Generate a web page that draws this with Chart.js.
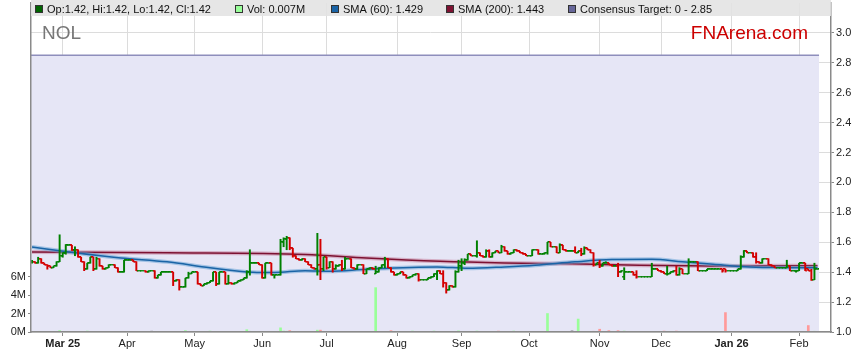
<!DOCTYPE html>
<html><head><meta charset="utf-8">
<script src="https://cdn.jsdelivr.net/npm/chart.js@4.4.1/dist/chart.umd.min.js"></script>
<style>html,body{margin:0;padding:0;background:#fff;overflow:hidden}canvas{display:block}</style>
</head><body>
<canvas id="c" width="859" height="363"></canvas>
<script>
// ---- data (one entry per weekday, 17 Feb 2025 .. 10 Feb 2026) ----
const monthLabels = ['Mar 25','Apr','May','Jun','Jul','Aug','Sep','Oct','Nov','Dec','Jan 26','Feb'];
const monthIdx    = [10,31,53,75,96,119,140,162,185,205,228,250];
const boldLabels  = ['Mar 25','Jan 26'];

const open = [
1.47,1.47,1.46,1.49,1.46,1.45,1.44,1.43,1.44,1.47,
1.51,1.525,1.58,1.58,1.545,1.55,1.50,1.47,1.42,1.46,
1.50,1.42,1.49,1.44,1.42,1.43,1.45,1.45,1.43,1.40,
1.40,1.48,1.48,1.48,1.47,1.41,1.41,1.41,1.40,1.41,
1.41,1.36,1.38,1.40,1.40,1.40,1.40,1.34,1.35,1.30,
1.30,1.36,1.39,1.40,1.40,1.32,1.31,1.32,1.33,1.34,
1.40,1.32,1.40,1.40,1.32,1.33,1.32,1.33,1.34,1.35,
1.36,1.40,1.46,1.46,1.46,1.45,1.36,1.46,1.46,1.38,
1.38,1.38,1.60,1.62,1.63,1.56,1.51,1.49,1.48,1.49,
1.47,1.45,1.43,1.42,1.45,1.42,1.50,1.43,1.47,1.42,
1.44,1.45,1.42,1.49,1.49,1.43,1.42,1.45,1.45,1.39,
1.42,1.43,1.39,1.40,1.43,1.45,1.49,1.43,1.40,1.38,
1.39,1.40,1.38,1.36,1.37,1.38,1.39,1.35,1.35,1.35,
1.36,1.37,1.39,1.41,1.39,1.33,1.28,1.31,1.30,1.40,
1.44,1.46,1.48,1.52,1.51,1.51,1.53,1.51,1.50,1.54,
1.50,1.53,1.54,1.53,1.57,1.54,1.52,1.53,1.55,1.54,
1.53,1.52,1.51,1.51,1.55,1.55,1.52,1.52,1.53,1.60,
1.57,1.57,1.53,1.58,1.55,1.54,1.54,1.54,1.53,1.54,
1.52,1.56,1.55,1.53,1.45,1.46,1.44,1.46,1.46,1.45,
1.44,1.44,1.40,1.37,1.40,1.40,1.40,1.38,1.37,1.37,
1.37,1.37,1.37,1.42,1.42,1.41,1.40,1.39,1.39,1.40,
1.41,1.38,1.42,1.39,1.39,1.47,1.47,1.47,1.41,1.41,
1.41,1.42,1.42,1.42,1.42,1.42,1.42,1.41,1.41,1.41,
1.41,1.42,1.50,1.54,1.53,1.53,1.50,1.47,1.46,1.49,
1.49,1.45,1.44,1.43,1.43,1.43,1.43,1.44,1.41,1.41,
1.41,1.46,1.46,1.42,1.41,1.35,1.42];
const high = [
1.48,1.47,1.50,1.49,1.46,1.45,1.44,1.44,1.47,1.65,
1.53,1.585,1.58,1.58,1.57,1.55,1.50,1.47,1.46,1.50,
1.50,1.50,1.49,1.44,1.43,1.45,1.45,1.45,1.43,1.40,
1.48,1.48,1.48,1.48,1.47,1.41,1.41,1.41,1.41,1.41,
1.41,1.38,1.40,1.40,1.40,1.40,1.40,1.35,1.35,1.30,
1.36,1.40,1.40,1.40,1.40,1.32,1.32,1.33,1.34,1.40,
1.40,1.40,1.40,1.40,1.38,1.33,1.33,1.34,1.35,1.36,
1.41,1.55,1.46,1.46,1.46,1.45,1.46,1.46,1.46,1.38,
1.38,1.62,1.63,1.64,1.63,1.56,1.51,1.49,1.49,1.49,
1.47,1.45,1.43,1.66,1.62,1.50,1.50,1.47,1.47,1.45,
1.45,1.48,1.50,1.49,1.49,1.43,1.45,1.45,1.45,1.42,
1.43,1.43,1.44,1.43,1.45,1.50,1.49,1.43,1.40,1.39,
1.40,1.40,1.38,1.37,1.38,1.39,1.39,1.35,1.35,1.36,
1.37,1.39,1.41,1.41,1.41,1.33,1.31,1.31,1.41,1.48,
1.49,1.49,1.52,1.52,1.51,1.61,1.53,1.51,1.55,1.55,
1.53,1.54,1.54,1.58,1.57,1.54,1.53,1.55,1.55,1.54,
1.53,1.52,1.51,1.55,1.55,1.55,1.52,1.53,1.60,1.60,
1.57,1.57,1.59,1.58,1.55,1.54,1.54,1.57,1.54,1.56,
1.57,1.56,1.55,1.53,1.46,1.48,1.46,1.47,1.46,1.45,
1.44,1.46,1.41,1.43,1.40,1.40,1.40,1.41,1.37,1.37,
1.37,1.37,1.46,1.42,1.42,1.41,1.40,1.44,1.40,1.41,
1.44,1.43,1.42,1.39,1.49,1.47,1.47,1.47,1.41,1.41,
1.42,1.42,1.42,1.42,1.42,1.42,1.42,1.41,1.41,1.41,
1.42,1.51,1.545,1.54,1.53,1.53,1.53,1.47,1.49,1.49,
1.49,1.45,1.44,1.43,1.43,1.43,1.48,1.44,1.41,1.41,
1.46,1.46,1.46,1.42,1.42,1.46,1.42];
const low = [
1.46,1.46,1.46,1.46,1.45,1.42,1.43,1.43,1.44,1.47,
1.50,1.52,1.58,1.545,1.51,1.50,1.47,1.41,1.42,1.46,
1.41,1.42,1.44,1.42,1.42,1.43,1.45,1.43,1.40,1.40,
1.40,1.48,1.48,1.47,1.41,1.41,1.41,1.40,1.40,1.41,
1.36,1.36,1.38,1.40,1.40,1.40,1.31,1.34,1.28,1.30,
1.30,1.36,1.39,1.40,1.32,1.31,1.31,1.32,1.33,1.34,
1.31,1.32,1.40,1.32,1.32,1.32,1.32,1.33,1.34,1.35,
1.36,1.38,1.46,1.46,1.45,1.36,1.36,1.46,1.38,1.36,
1.38,1.38,1.57,1.55,1.55,1.50,1.49,1.48,1.48,1.47,
1.45,1.43,1.42,1.38,1.35,1.41,1.42,1.43,1.40,1.42,
1.44,1.41,1.42,1.49,1.43,1.42,1.42,1.45,1.39,1.39,
1.42,1.42,1.39,1.40,1.43,1.43,1.43,1.40,1.38,1.38,
1.39,1.38,1.36,1.36,1.37,1.38,1.34,1.35,1.35,1.35,
1.36,1.37,1.35,1.39,1.30,1.26,1.28,1.30,1.30,1.40,
1.41,1.45,1.48,1.51,1.51,1.50,1.51,1.50,1.50,1.50,
1.50,1.53,1.53,1.53,1.54,1.52,1.52,1.53,1.54,1.53,
1.52,1.51,1.51,1.51,1.55,1.52,1.52,1.52,1.52,1.57,
1.57,1.53,1.53,1.55,1.54,1.54,1.54,1.53,1.53,1.51,
1.52,1.55,1.53,1.44,1.45,1.43,1.44,1.46,1.45,1.44,
1.44,1.37,1.40,1.35,1.40,1.40,1.38,1.36,1.37,1.37,
1.37,1.37,1.37,1.42,1.41,1.40,1.39,1.38,1.39,1.40,
1.38,1.38,1.39,1.39,1.39,1.47,1.47,1.41,1.41,1.41,
1.41,1.42,1.42,1.42,1.42,1.40,1.40,1.41,1.41,1.41,
1.41,1.42,1.50,1.53,1.53,1.50,1.46,1.46,1.46,1.49,
1.45,1.44,1.43,1.43,1.43,1.43,1.43,1.41,1.41,1.40,
1.41,1.46,1.41,1.41,1.345,1.35,1.42];
const close = [
1.47,1.46,1.49,1.46,1.45,1.44,1.43,1.44,1.47,1.51,
1.525,1.58,1.58,1.545,1.55,1.50,1.47,1.42,1.46,1.50,
1.42,1.49,1.44,1.42,1.43,1.45,1.45,1.43,1.40,1.40,
1.48,1.48,1.48,1.47,1.41,1.41,1.41,1.40,1.41,1.41,
1.36,1.38,1.40,1.40,1.40,1.40,1.34,1.35,1.30,1.30,
1.36,1.39,1.40,1.40,1.32,1.31,1.32,1.33,1.34,1.40,
1.32,1.40,1.40,1.32,1.33,1.32,1.33,1.34,1.35,1.36,
1.40,1.46,1.46,1.46,1.45,1.36,1.46,1.46,1.38,1.38,
1.38,1.60,1.62,1.63,1.56,1.51,1.49,1.48,1.49,1.47,
1.45,1.43,1.42,1.45,1.42,1.50,1.43,1.47,1.42,1.44,
1.45,1.42,1.49,1.49,1.43,1.42,1.45,1.45,1.39,1.42,
1.43,1.42,1.40,1.43,1.45,1.49,1.43,1.40,1.38,1.39,
1.40,1.38,1.36,1.37,1.38,1.39,1.35,1.35,1.35,1.36,
1.37,1.39,1.41,1.39,1.33,1.28,1.31,1.30,1.40,1.44,
1.46,1.48,1.52,1.51,1.51,1.53,1.51,1.50,1.54,1.50,
1.53,1.54,1.53,1.57,1.54,1.52,1.53,1.55,1.54,1.53,
1.52,1.51,1.51,1.55,1.55,1.52,1.52,1.53,1.60,1.57,
1.57,1.53,1.58,1.55,1.54,1.54,1.54,1.53,1.54,1.52,
1.56,1.55,1.53,1.45,1.46,1.44,1.46,1.46,1.45,1.44,
1.44,1.40,1.41,1.40,1.40,1.40,1.38,1.37,1.37,1.37,
1.37,1.37,1.42,1.42,1.41,1.40,1.39,1.39,1.40,1.41,
1.38,1.42,1.39,1.39,1.47,1.47,1.47,1.41,1.41,1.41,
1.42,1.42,1.42,1.42,1.42,1.41,1.41,1.41,1.41,1.41,
1.42,1.50,1.54,1.53,1.53,1.50,1.47,1.46,1.49,1.49,
1.45,1.44,1.43,1.43,1.43,1.43,1.44,1.41,1.41,1.41,
1.46,1.46,1.41,1.41,1.35,1.42,1.42];
// volume in millions of shares
const volume = [
0.03,0.03,0.03,0.03,0.03,0.03,0.03,0.03,0.03,0.15,
0.03,0.05,0.02,0.03,0.04,0.03,0.03,0.04,0.10,0.03,
0.04,0.03,0.03,0.03,0.02,0.03,0.02,0.03,0.03,0.02,
0.05,0.02,0.02,0.03,0.04,0.02,0.02,0.03,0.02,0.10,
0.04,0.02,0.03,0.02,0.02,0.02,0.05,0.02,0.06,0.02,
0.15,0.03,0.02,0.02,0.04,0.02,0.02,0.02,0.10,0.04,
0.04,0.03,0.02,0.03,0.03,0.02,0.02,0.02,0.02,0.03,
0.25,0.08,0.02,0.02,0.02,0.04,0.04,0.02,0.04,0.02,
0.02,0.45,0.10,0.08,0.15,0.05,0.03,0.02,0.02,0.03,
0.03,0.03,0.02,0.20,0.20,0.06,0.04,0.03,0.04,0.03,
0.03,0.04,0.05,0.02,0.04,0.03,0.03,0.02,0.04,0.03,
0.03,0.03,4.80,0.03,0.03,0.05,0.04,0.15,0.02,0.03,
0.03,0.03,0.04,0.03,0.10,0.03,0.04,0.03,0.02,0.03,
0.03,0.10,0.04,0.03,0.05,0.06,0.04,0.03,0.05,0.12,
0.05,0.04,0.05,0.03,0.02,0.10,0.03,0.03,0.04,0.04,
0.04,0.03,0.10,0.05,0.03,0.03,0.03,0.10,0.03,0.03,
0.03,0.03,0.02,0.05,0.02,0.04,0.02,0.03,2.00,0.06,
0.02,0.04,0.05,0.04,0.03,0.02,0.15,0.05,1.40,0.04,
0.05,0.03,0.04,0.08,0.03,0.30,0.03,0.03,0.15,0.03,
0.02,0.15,0.03,0.10,0.02,0.02,0.04,0.05,0.02,0.02,
0.02,0.02,0.06,0.02,0.03,0.03,0.10,0.04,0.03,0.03,
0.10,0.04,0.03,0.02,0.06,0.02,0.02,0.04,0.02,0.02,
0.03,0.02,0.02,0.02,0.02,0.03,2.10,0.02,0.02,0.02,
0.03,0.06,0.05,0.03,0.02,0.04,0.05,0.03,0.04,0.02,
0.04,0.03,0.03,0.02,0.02,0.02,0.05,0.04,0.02,0.03,
0.05,0.02,0.04,0.70,0.05,0.08,0.007];
// moving averages at these day indices
const sma60Idx  = [0,14,29,44,58,72,79,89,97,109,132,142,154,164,177,189,202,212,222,234,247,256];
const sma60Val  = [1.568,1.53,1.495,1.469,1.43,1.40,1.398,1.41,1.406,1.42,1.435,1.426,1.435,1.446,1.469,1.484,1.486,1.469,1.453,1.435,1.43,1.429];
const sma200Idx = [0,44,89,109,133,154,176,198,222,256];
const sma200Val = [1.535,1.53,1.519,1.495,1.473,1.462,1.456,1.446,1.442,1.443];
const targetLow = 0, targetHigh = 2.85;
const ticker = 'NOL';

// ---- styling ----
const FONT = '"Liberation Sans", Arial, Helvetica, sans-serif';
const UP = '#008000', DOWN = '#d40000';
const N = close.length;
const isUp = close.map((c, i) => c >= open[i]);

function tickImg(color, side) {
  const c = document.createElement('canvas');
  c.width = 4; c.height = 2;
  const g = c.getContext('2d');
  g.fillStyle = color;
  const x0 = side === 'open' ? 0 : 2;
  g.fillRect(x0, 0, 2, 1);
  g.globalAlpha = 0.45;
  g.fillRect(x0, 1, 2, 1);
  return c;
}
const imgs = {
  oU: tickImg(UP, 'open'), oD: tickImg(DOWN, 'open'),
  cU: tickImg(UP, 'close'), cD: tickImg(DOWN, 'close')
};

const idx = close.map((_, i) => i);
const hlData = idx.map(i => ({x: i, y: [low[i], high[i]]}));
const openData = idx.map(i => ({x: i, y: open[i]}));
const closeData = idx.map(i => ({x: i, y: close[i]}));
const volData = idx.map(i => ({x: i, y: volume[i]}));
const volColors = idx.map(i => close[i] > open[i] ? '#99ff99' : (close[i] < open[i] ? '#ff9a9a' : '#a0a0a8'));
const sma60Data = sma60Idx.map((x, k) => ({x, y: sma60Val[k]}));
const sma200Data = sma200Idx.map((x, k) => ({x, y: sma200Val[k]}));

const decor = {
  id: 'decor',
  beforeDatasetsDraw(chart) {
    const {ctx, chartArea: a, scales: {x, y}} = chart;
    const top = y.getPixelForValue(targetHigh);
    const bottom = Math.min(a.bottom, y.getPixelForValue(Math.max(targetLow, y.min)));
    const right = x.getPixelForValue(N - 0.5);
    ctx.save();
    ctx.fillStyle = '#e6e6f6';
    ctx.fillRect(a.left, top, right - a.left, bottom - top);
    ctx.strokeStyle = '#8e8ebc';
    ctx.lineWidth = 1.5;
    ctx.beginPath(); ctx.moveTo(a.left, top); ctx.lineTo(right, top); ctx.stroke();
    ctx.restore();
  },
  afterDraw(chart) {
    const {ctx, chartArea: a} = chart;
    const L = N - 1;
    ctx.save();
    ctx.fillStyle = 'rgba(226,226,226,0.88)';
    ctx.fillRect(a.left, 0, a.right - a.left, 16);
    const items = [
      {x: 35, c: '#006400', t: `Op:${open[L].toFixed(2)}, Hi:${high[L].toFixed(2)}, Lo:${low[L].toFixed(2)}, Cl:${close[L].toFixed(2)}`},
      {x: 235, c: '#99ff99', t: `Vol: ${volume[L].toFixed(3)}M`},
      {x: 331, c: '#1a64a6', t: `SMA (60): ${sma60Val[sma60Val.length - 1].toFixed(3)}`},
      {x: 446, c: '#7d1232', t: `SMA (200): ${sma200Val[sma200Val.length - 1].toFixed(3)}`},
      {x: 568, c: '#666699', t: `Consensus Target: ${targetLow} - ${targetHigh.toFixed(2)}`}
    ];
    ctx.font = '11px ' + FONT;
    ctx.textBaseline = 'middle';
    items.forEach(it => {
      ctx.fillStyle = it.c;
      ctx.fillRect(it.x, 5, 8, 8);
      ctx.strokeStyle = '#333';
      ctx.lineWidth = 1;
      ctx.strokeRect(it.x + 0.5, 5.5, 7, 7);
      ctx.fillStyle = '#111';
      ctx.fillText(it.t, it.x + 12, 9.5);
    });
    ctx.textBaseline = 'alphabetic';
    ctx.font = '19px ' + FONT;
    ctx.fillStyle = '#777';
    ctx.fillText(ticker, 42, 39);
    ctx.fillStyle = '#cc0000';
    ctx.textAlign = 'right';
    ctx.fillText('FNArena.com', 808, 39);
    ctx.restore();
  }
};

function noPad(s) { s.paddingTop = 0; s.paddingBottom = 0; s.paddingLeft = 0; s.paddingRight = 0; }

new Chart(document.getElementById('c'), {
  type: 'bar',
  data: {
    datasets: [
      {type: 'line', label: 'open', data: openData, yAxisID: 'y', showLine: false,
       pointRadius: 2, pointHoverRadius: 2,
       pointStyle: ctx => isUp[ctx.dataIndex] ? imgs.oU : imgs.oD},
      {type: 'line', label: 'close', data: closeData, yAxisID: 'y', showLine: false,
       pointRadius: 2, pointHoverRadius: 2,
       pointStyle: ctx => isUp[ctx.dataIndex] ? imgs.cU : imgs.cD},
      {type: 'bar', label: 'hl', data: hlData, yAxisID: 'y', grouped: false,
       barThickness: 1.3, borderWidth: 0,
       backgroundColor: idx.map(i => isUp[i] ? UP : DOWN)},
      {type: 'line', label: 'sma60', data: sma60Data, yAxisID: 'y',
       borderColor: '#1a64a6', borderWidth: 1.5, pointRadius: 0, cubicInterpolationMode: 'monotone', fill: false},
      {type: 'line', label: 'sma60halo', data: sma60Data, yAxisID: 'y',
       borderColor: 'rgba(110,165,215,0.55)', borderWidth: 4, pointRadius: 0, cubicInterpolationMode: 'monotone', fill: false},
      {type: 'line', label: 'sma200', data: sma200Data, yAxisID: 'y',
       borderColor: '#7d1232', borderWidth: 1.5, pointRadius: 0, cubicInterpolationMode: 'monotone', fill: false},
      {type: 'line', label: 'sma200halo', data: sma200Data, yAxisID: 'y',
       borderColor: 'rgba(195,120,150,0.5)', borderWidth: 4, pointRadius: 0, cubicInterpolationMode: 'monotone', fill: false},
      {type: 'bar', label: 'vol', data: volData, yAxisID: 'yv', grouped: false,
       barThickness: 2, borderWidth: 0, backgroundColor: volColors}
    ]
  },
  options: {
    responsive: false,
    animation: false,
    devicePixelRatio: 1,
    events: [],
    layout: {padding: 0},
    plugins: {legend: {display: false}, tooltip: {enabled: false}},
    scales: {
      x: {
        type: 'linear', min: -0.33, max: 260.4, offset: false,
        afterBuildTicks: s => { s.ticks = monthIdx.map(v => ({value: v})); },
        afterFit: s => { s.height = 31; noPad(s); },
        grid: {color: '#dcdcdc', tickColor: '#888', tickLength: 4, lineWidth: 1, offset: false},
        border: {color: '#8a8a8a', width: 1.5, z: 1},
        ticks: {
          autoSkip: false, maxRotation: 0, padding: 1, color: '#222',
          callback: v => monthLabels[monthIdx.indexOf(v)],
          font: ctx => ({family: FONT, size: 11,
            weight: (ctx.tick && boldLabels.includes(monthLabels[monthIdx.indexOf(ctx.tick.value)])) ? 'bold' : 'normal'})
        }
      },
      y: {
        position: 'right', min: 1.0, max: 3.2,
        afterBuildTicks: s => { s.ticks = s.ticks.filter(t => t.value <= 3.0001); },
        afterFit: s => { s.width = 28; noPad(s); },
        grid: {color: '#dcdcdc', tickColor: '#888', tickLength: 3},
        border: {color: '#8a8a8a', width: 1.5, z: 1},
        ticks: {stepSize: 0.2, padding: 2, color: '#222', font: {family: FONT, size: 11},
          callback: v => Number(v).toFixed(1)}
      },
      yv: {
        position: 'left', min: 0, max: 35.6,
        afterBuildTicks: s => { s.ticks = [0, 2, 4, 6].map(v => ({value: v})); },
        afterFit: s => { s.width = 31; noPad(s); },
        grid: {drawOnChartArea: false, tickColor: '#888', tickLength: 3},
        border: {color: '#8a8a8a', width: 1.5, z: 1},
        ticks: {padding: 2, color: '#222', font: {family: FONT, size: 11},
          callback: v => v + 'M'}
      }
    }
  },
  plugins: [decor]
});
</script>
</body></html>
